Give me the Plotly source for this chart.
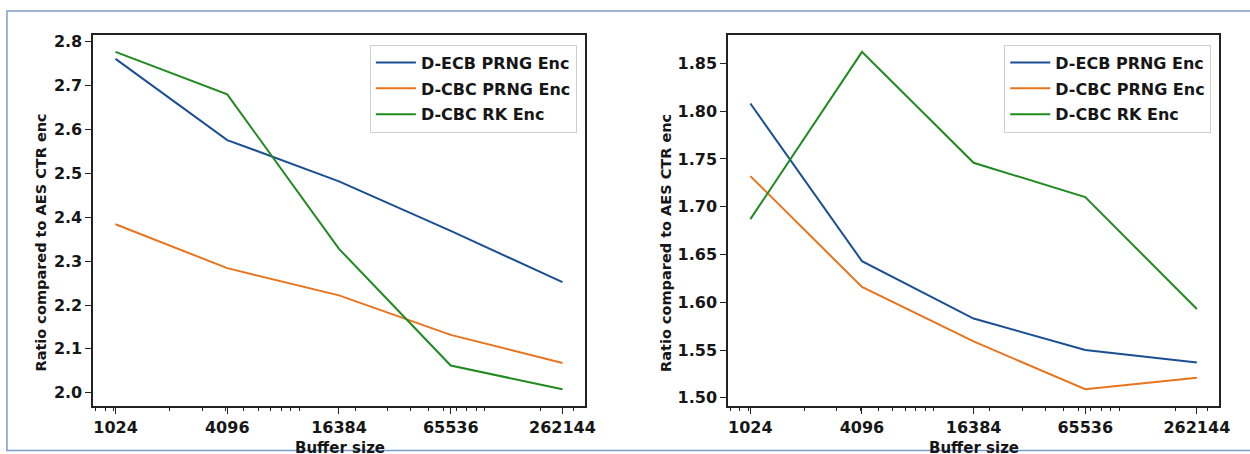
import math
import plotly.graph_objects as go

# ---------------- data ----------------
buffer_sizes = [1024, 4096, 16384, 65536, 262144]
tick_labels = ["1024", "4096", "16384", "65536", "262144"]
series_names = ["D-ECB PRNG Enc", "D-CBC PRNG Enc", "D-CBC RK Enc"]

left_ecb_prng = [2.761, 2.576, 2.482, 2.369, 2.252]
left_cbc_prng = [2.384, 2.284, 2.222, 2.132, 2.068]
left_cbc_rk = [2.777, 2.680, 2.328, 2.062, 2.008]

right_ecb_prng = [1.808, 1.643, 1.583, 1.550, 1.537]
right_cbc_prng = [1.732, 1.616, 1.559, 1.509, 1.521]
right_cbc_rk = [1.687, 1.862, 1.746, 1.710, 1.593]

left_yticks = [2.0, 2.1, 2.2, 2.3, 2.4, 2.5, 2.6, 2.7, 2.8]
right_yticks = [1.50, 1.55, 1.60, 1.65, 1.70, 1.75, 1.80, 1.85]

colors = ["#1b4f93", "#e8741e", "#1f8a1f"]

W, H = 1250, 454
FONT = "DejaVu Sans"
TXT = "#161616"


def margin_range(vals, frac=0.05):
    lo, hi = min(vals), max(vals)
    d = (hi - lo) * frac
    return [lo - d, hi + d]


lx = [math.log10(v) for v in buffer_sizes]
x_range = margin_range(lx)
minor_vals = [d * 10 ** e for e in range(2, 7) for d in range(1, 10)
              if x_range[0] <= math.log10(d * 10 ** e) <= x_range[1]]

fig = go.Figure()

left_sets = [left_ecb_prng, left_cbc_prng, left_cbc_rk]
right_sets = [right_ecb_prng, right_cbc_prng, right_cbc_rk]

for i, (name, ys) in enumerate(zip(series_names, left_sets)):
    fig.add_trace(go.Scatter(x=buffer_sizes, y=ys, mode="lines", name=name,
                             line=dict(color=colors[i], width=2),
                             xaxis="x", yaxis="y", legend="legend",
                             legendgroup="l%d" % i))
for i, (name, ys) in enumerate(zip(series_names, right_sets)):
    fig.add_trace(go.Scatter(x=buffer_sizes, y=ys, mode="lines", name=name,
                             line=dict(color=colors[i], width=2),
                             xaxis="x2", yaxis="y2", legend="legend2",
                             legendgroup="r%d" % i))


def px_x(p):
    return p / W


def px_y(p):
    return 1 - p / H


axis_common = dict(showline=True, mirror=True, linecolor="#222222", linewidth=1.5,
                   showgrid=False, zeroline=False, ticks="outside", ticklen=6,
                   tickcolor="#222222", tickwidth=1.2,
                   tickfont=dict(family=FONT, size=16, color=TXT, weight="bold"))

xaxis_common = dict(axis_common, type="log", range=x_range,
                    tickmode="array", tickvals=buffer_sizes, ticktext=tick_labels,
                    minor=dict(tickmode="array", tickvals=minor_vals, ticks="outside",
                               ticklen=3, tickcolor="#222222", tickwidth=1))

left_dom = [px_x(94), px_x(590)]
right_dom = [px_x(734.5), px_x(1230)]
y_dom = [px_y(406.7), px_y(32.3)]

legend_common = dict(bgcolor="white", bordercolor="#cfcfcf", borderwidth=1,
                     font=dict(family=FONT, size=16, color=TXT, weight="bold"),
                     xanchor="right", yanchor="top", tracegroupgap=2,
                     itemwidth=40)

fig.update_layout(
    width=W, height=H,
    margin=dict(l=0, r=0, t=0, b=0),
    paper_bgcolor="white", plot_bgcolor="white",
    showlegend=True,
    xaxis=dict(xaxis_common, domain=left_dom, anchor="y"),
    yaxis=dict(axis_common, domain=y_dom, anchor="x",
               range=margin_range(left_ecb_prng + left_cbc_prng + left_cbc_rk),
               tickmode="array", tickvals=left_yticks, tickformat=".1f"),
    xaxis2=dict(xaxis_common, domain=right_dom, anchor="y2"),
    yaxis2=dict(axis_common, domain=y_dom, anchor="x2",
                range=margin_range(right_ecb_prng + right_cbc_prng + right_cbc_rk),
                tickmode="array", tickvals=right_yticks, tickformat=".2f"),
    legend=dict(legend_common, x=px_x(582), y=px_y(42)),
    legend2=dict(legend_common, x=px_x(1222), y=px_y(42)),
)

ytitle = "Ratio compared to AES CTR enc"
for xc in (41, 672):
    fig.add_annotation(text=ytitle, xref="paper", yref="paper",
                       x=px_x(xc), y=px_y(242), textangle=-90,
                       showarrow=False, xanchor="center", yanchor="middle",
                       font=dict(family=FONT, size=14.5, color=TXT, weight="bold"))
for xc in (343, 983):
    fig.add_annotation(text="Buffer size", xref="paper", yref="paper",
                       x=px_x(xc), y=px_y(438), showarrow=False,
                       xanchor="center", yanchor="top",
                       font=dict(family=FONT, size=15, color=TXT, weight="bold"))

# outer frame of the figure image
fig.add_shape(type="rect", xref="paper", yref="paper",
              x0=px_x(7), x1=1.01, y0=px_y(451.5), y1=px_y(8),
              line=dict(color="#7d9cc8", width=1.5), fillcolor="rgba(0,0,0,0)",
              layer="above")

fig.write_html("out.html", config={"displayModeBar": False},
               post_script="document.body.style.margin='0';")
